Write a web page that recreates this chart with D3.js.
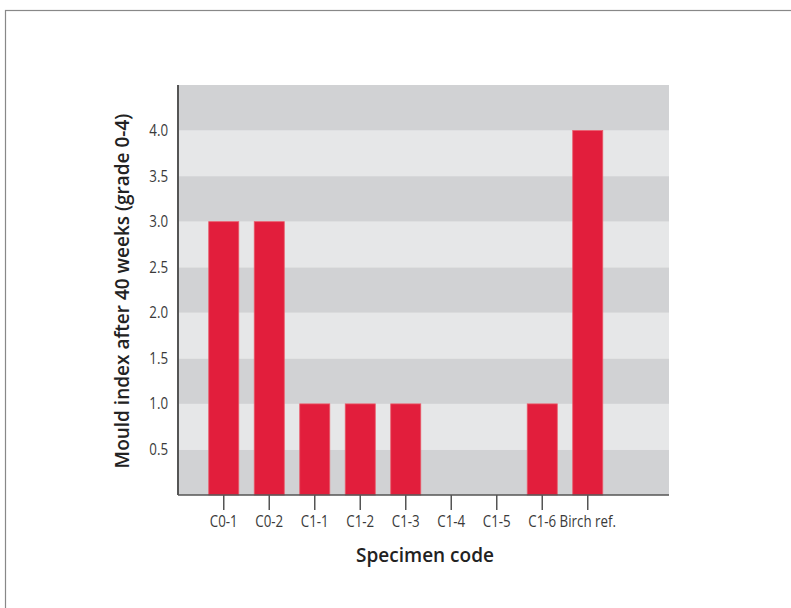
<!DOCTYPE html>
<html><head><meta charset="utf-8">
<script src="https://cdn.jsdelivr.net/npm/d3@7"></script>
<style>body{margin:0;background:#fff}svg{display:block}</style>
</head><body>
<script>
const categories = ["C0-1","C0-2","C1-1","C1-2","C1-3","C1-4","C1-5","C1-6","Birch ref."];
const values = [3.0,3.0,1.0,1.0,1.0,0,0,1.0,4.0];
const yTicks = [0.5,1.0,1.5,2.0,2.5,3.0,3.5,4.0];
const xTitle = "Specimen code";
const yTitle = "Mould index after 40 weeks (grade 0-4)";

(function(){
const W=791,H=608;
const svg=d3.select("body").append("svg").attr("width",W).attr("height",H);
svg.append("rect").attr("x",5.5).attr("y",10.5).attr("width",W+10).attr("height",H+10)
  .attr("fill","none").attr("stroke","#888").attr("stroke-width",1.2);

const pL=178,pR=669,pT=85,pB=495;
const y=d3.scaleLinear().domain([0,4.5]).range([pB,pT]);
const x=d3.scaleBand().domain(categories).range([201,610.5]).paddingInner(0.34).paddingOuter(0.17);

const bands=d3.range(0,4.5,0.5);
svg.append("g").selectAll("rect").data(bands).join("rect")
  .attr("x",pL).attr("width",pR-pL)
  .attr("y",d=>y(d+0.5)).attr("height",d=>y(d)-y(d+0.5))
  .attr("fill",(d,i)=>i%2===0?"#d1d2d4":"#e6e7e8");

svg.append("g").selectAll("rect").data(values.map((v,i)=>({c:categories[i],v})).filter(d=>d.v>0)).join("rect")
  .attr("x",d=>x(d.c)).attr("width",x.bandwidth())
  .attr("y",d=>y(d.v)).attr("height",d=>y(0)-y(d.v))
  .attr("fill","#e21e3c").attr("stroke","#ea5a6a").attr("stroke-width",0.8);

const tf="'Open Sans',sans-serif";
const sx=0.86;
const ya=svg.append("g").attr("transform",`translate(${pL},0)`)
  .call(d3.axisLeft(y).tickValues(yTicks).tickFormat(d3.format(".1f")).tickSize(0).tickPadding(10));
ya.select(".domain").attr("stroke","#555").attr("stroke-width",2).attr("d",`M0,${pT}V${pB}`);
ya.selectAll("text").attr("font-family",tf).attr("font-size",15.5).attr("fill","#3a3a3a")
  .attr("x",-10/sx).attr("transform",`scale(${sx},1)`);

const xa=svg.append("g").attr("transform",`translate(0,${pB})`)
  .call(d3.axisBottom(x).tickSize(15).tickPadding(6));
xa.select(".domain").attr("stroke","#555").attr("stroke-width",1.5).attr("d",`M${pL},0H${pR}`);
xa.selectAll(".tick line").attr("stroke","#555").attr("stroke-width",1.5);
xa.selectAll("text").attr("font-family",tf).attr("font-size",15.5).attr("fill","#3a3a3a")
  .attr("transform",`scale(${sx},1)`);

svg.append("text").attr("x",425).attr("y",562).attr("text-anchor","middle")
  .attr("font-family",tf).attr("font-weight",600).attr("font-size",19).attr("fill","#222").text(xTitle);
svg.append("text").attr("transform","translate(129,291) rotate(-90)").attr("text-anchor","middle")
  .attr("font-family",tf).attr("font-weight",600).attr("font-size",19).attr("fill","#222").text(yTitle);
})();
</script>
</body></html>
